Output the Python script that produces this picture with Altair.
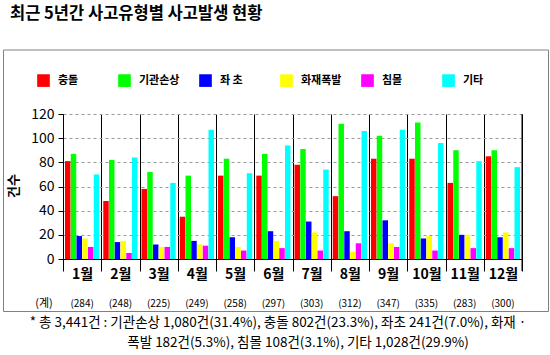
import altair as alt
import pandas as pd

FONT = "Noto Sans CJK KR"

title_text = "최근 5년간 사고유형별 사고발생 현황"
y_title = "건수"
months = ["1월", "2월", "3월", "4월", "5월", "6월", "7월", "8월", "9월", "10월", "11월", "12월"]
types = ["충돌", "기관손상", "좌 초", "화재폭발", "침몰", "기타"]
colors = ["#FF0000", "#00FF00", "#0000FF", "#FFFF00", "#FF00FF", "#00FFFF"]

collision = [81, 48, 58, 35, 69, 69, 78, 52, 83, 83, 63, 85]
engine = [87, 82, 72, 69, 83, 87, 91, 112, 102, 113, 90, 90]
grounding = [19, 14, 12, 15, 18, 23, 31, 23, 32, 17, 20, 18]
fire = [17, 15, 10, 12, 10, 15, 22, 6, 13, 19, 20, 22]
sinking = [10, 5, 10, 11, 7, 9, 7, 13, 10, 7, 9, 9]
other = [70, 84, 63, 107, 71, 94, 74, 106, 107, 96, 81, 76]
totals = [284, 248, 225, 249, 258, 297, 303, 312, 347, 335, 283, 300]
total_label = "(계)"
y_ticks = [0, 20, 40, 60, 80, 100, 120]

note1 = "* 총 3,441건 : 기관손상 1,080건(31.4%), 충돌 802건(23.3%), 좌초 241건(7.0%), 화재 ·"
note2 = "폭발 182건(5.3%), 침몰 108건(3.1%), 기타 1,028건(29.9%)"

series = [collision, engine, grounding, fire, sinking, other]
rows = []
for t, vals in zip(types, series):
    for m, v in zip(months, vals):
        rows.append({"month": m, "type": t, "count": v})
df = pd.DataFrame(rows)
tot_df = pd.DataFrame({"month": months, "label": [f"({v})" for v in totals]})

W, H = 459, 145

x_enc = alt.X(
    "month:N", sort=months,
    scale=alt.Scale(paddingInner=0, paddingOuter=0),
    axis=alt.Axis(
        title=None, tickBand="extent", grid=True, gridColor="#000000", gridWidth=1,
        ticks=True, tickSize=12, tickColor="#000000", domainColor="#000000",
        labelAngle=0, labelAlign="center", labelBaseline="middle", labelPadding=3,
        labelFont=FONT, labelFontSize=14, labelFontWeight="bold", labelColor="#000000",
    ),
)

bars = alt.Chart(df).mark_bar().encode(
    x=x_enc,
    xOffset=alt.XOffset("type:N", sort=types,
                        scale=alt.Scale(paddingInner=0.05, paddingOuter=0.35)),
    y=alt.Y("count:Q", scale=alt.Scale(domain=[0, 120]),
            axis=alt.Axis(title=None, values=y_ticks, grid=True, gridColor="#999999",
                          gridDash=[3, 3], tickSize=5, tickColor="#000000",
                          domainColor="#000000", labelFont=FONT, labelFontSize=14,
                          labelColor="#000000", labelPadding=4)),
    color=alt.Color("type:N", sort=types,
                    scale=alt.Scale(domain=types, range=colors),
                    legend=alt.Legend(title=None, orient="none", legendX=-26, legendY=-40,
                                      direction="horizontal", columns=6, gridAlign="all",
                                      columnPadding=19, symbolType="square", symbolSize=160,
                                      symbolStrokeWidth=0, labelFont=FONT, labelFontSize=11,
                                      labelFontWeight="bold", labelOffset=8,
                                      labelColor="#000000")),
)

tot_text = alt.Chart(tot_df).mark_text(font=FONT, fontSize=10, color="#000000",
                                       baseline="middle").encode(
    x=x_enc, y=alt.value(190), text="label:N")

def label(txt, x, y, size, weight="normal", align="center", angle=0):
    return alt.Chart(pd.DataFrame({"t": [txt]})).mark_text(
        font=FONT, fontSize=size, fontWeight=weight, align=align, baseline="middle",
        color="#000000", angle=angle,
    ).encode(x=alt.value(x), y=alt.value(y), text="t:N")

box = alt.Chart(pd.DataFrame({"a": [0]})).mark_rect(
    fill=None, stroke="#808080", strokeWidth=1).encode(
    x=alt.value(-59.5), x2=alt.value(485.5), y=alt.value(-64), y2=alt.value(197.5))

right_edge = alt.Chart(pd.DataFrame({"a": [0]})).mark_rule(color="#000000").encode(
    x=alt.value(W), y=alt.value(0), y2=alt.value(H + 12))

chart = alt.layer(
    box,
    bars,
    right_edge,
    tot_text,
    label(total_label, -19, 190, 11),
    label(title_text, -53, -100, 16.5, weight="bold", align="left"),
    label(y_title, -49, 72, 13, weight="bold", angle=270),
    label(note1, 215, 209, 13.5),
    label(note2, 235, 229, 13.5),
).properties(
    width=W, height=H,
    autosize=alt.AutoSizeParams(type="none"),
    padding={"left": 63, "top": 114, "right": 28, "bottom": 96},
    background="#FFFFFF",
).configure_view(stroke=None)

chart.save("out.html", embed_options={"renderer": "svg", "actions": False})
